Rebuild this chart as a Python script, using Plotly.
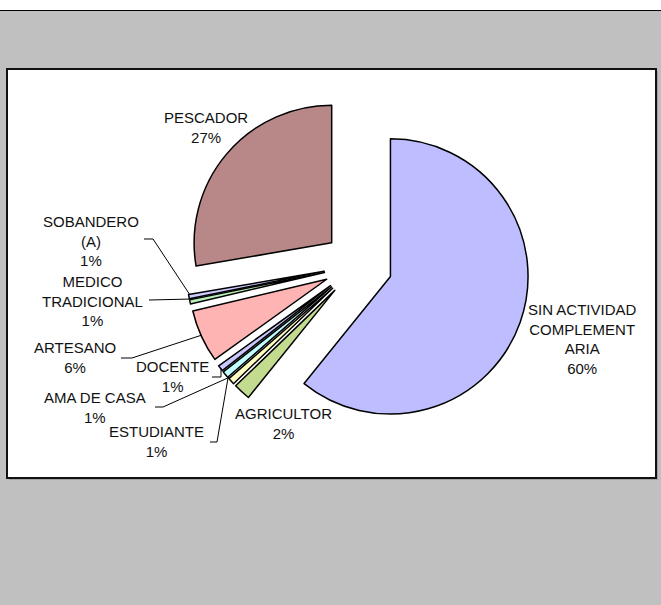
import plotly.graph_objects as go

# ---- data ----
categories = ["SIN ACTIVIDAD COMPLEMENTARIA", "AGRICULTOR", "ESTUDIANTE", "AMA DE CASA",
              "DOCENTE", "ARTESANO", "MEDICO TRADICIONAL", "SOBANDERO (A)", "PESCADOR"]
shares = [60.8, 2.0, 0.8, 0.8, 0.7, 6.2, 0.5, 0.5, 27.7]
pct_labels = ["60%", "2%", "1%", "1%", "1%", "6%", "1%", "1%", "27%"]
label_lines = [["SIN ACTIVIDAD", "COMPLEMENT", "ARIA"], ["AGRICULTOR"], ["ESTUDIANTE"],
               ["AMA DE CASA"], ["DOCENTE"], ["ARTESANO"], ["MEDICO", "TRADICIONAL"],
               ["SOBANDERO", "(A)"], ["PESCADOR"]]

# ---- styles ----
colors = ["#BDBDFF", "#C3DB8F", "#FFFFC0", "#C0FFFF", "#C8C8FF",
          "#FFB4B4", "#B8F0B8", "#CCCCFF", "#B88888"]
W, H = 661, 605

def px(x):
    return x / W

def py(y):
    return 1 - y / H

# pie placement (pixel centre / box)
cx, cy, box = 358, 265, 344
fig = go.Figure(go.Pie(
    labels=categories, values=shares, sort=False, direction="clockwise", rotation=0,
    pull=[0.25] * len(shares), textinfo="none", hoverinfo="label+percent",
    marker=dict(colors=colors, line=dict(color="black", width=1.5)),
    domain=dict(x=[px(cx - box / 2), px(cx + box / 2)], y=[py(cy + box / 2), py(cy - box / 2)]),
    showlegend=False,
))

# label centre positions (pixels)
label_pos = [(582, 339), (283, 423), (156, 441), (95, 407), (172, 376),
             (75, 357), (93, 301), (91, 241), (206, 127)]

font = dict(family="Arial, Liberation Sans, sans-serif", size=15, color="#111111")
annotations = []
for lines, pct, (lx, ly) in zip(label_lines, pct_labels, label_pos):
    annotations.append(dict(
        text="<br>".join(lines + [pct]), x=px(lx), y=py(ly), xref="paper", yref="paper",
        xanchor="center", yanchor="middle", showarrow=False, align="center", font=font))

# leader lines (pixel polylines)
leaders = [
    [(144, 239), (153, 239), (190, 295)],   # sobandero
    [(149, 300), (193, 299)],               # medico
    [(121, 358), (132, 358), (202, 335)],   # artesano
    [(212, 377), (221, 377), (221, 368)],   # docente
    [(155, 407), (163, 407), (230, 377)],   # ama de casa
    [(210, 442), (217, 442), (228, 378)],   # estudiante
]

shapes = [
    # top white strip with black line
    dict(type="rect", xref="paper", yref="paper", x0=0, x1=1, y0=py(10), y1=1,
         fillcolor="white", line=dict(width=0), layer="below"),
    dict(type="line", xref="paper", yref="paper", x0=0, x1=1, y0=py(10.5), y1=py(10.5),
         line=dict(color="black", width=1), layer="below"),
    # shadow of chart box
    dict(type="rect", xref="paper", yref="paper", x0=px(9), x1=px(658), y0=py(480), y1=py(71),
         fillcolor="#A0A0A0", line=dict(width=0), layer="below"),
    # chart box
    dict(type="rect", xref="paper", yref="paper", x0=px(7), x1=px(656), y0=py(478), y1=py(69),
         fillcolor="white", line=dict(color="#111111", width=2), layer="below"),
]
for pts in leaders:
    path = "M " + " L ".join(f"{px(x):.5f},{py(y):.5f}" for x, y in pts)
    shapes.append(dict(type="path", xref="paper", yref="paper", path=path,
                       line=dict(color="black", width=1), layer="above"))

fig.update_layout(
    width=W, height=H, margin=dict(l=0, r=0, t=0, b=0),
    paper_bgcolor="#C0C0C0", plot_bgcolor="#C0C0C0",
    shapes=shapes, annotations=annotations,
)
fig.write_html("out.html", config={"displayModeBar": False},
               post_script="document.body.style.margin='0';")
